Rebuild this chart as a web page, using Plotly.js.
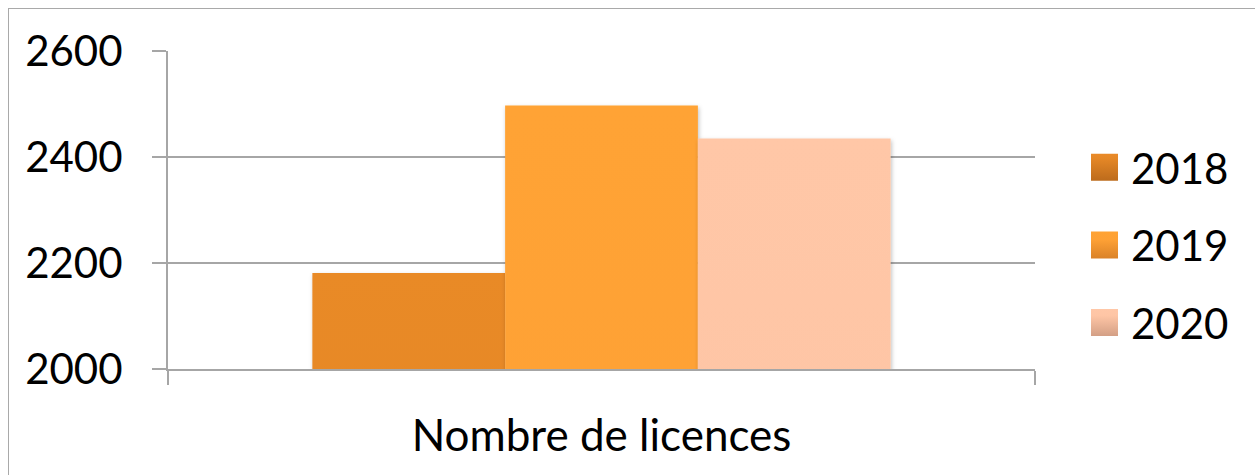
<!DOCTYPE html>
<html><head><meta charset="utf-8">
<script src="https://cdn.plot.ly/plotly-3.0.1.min.js"></script>
<style>
html,body{margin:0;padding:0;background:#fff;overflow:hidden;}
#chart{width:1255px;height:475px;position:absolute;left:0;top:0;}
#frame{position:absolute;left:8px;top:8px;width:1400px;height:600px;border-left:1.5px solid #a9a9a9;border-top:1.5px solid #a9a9a9;pointer-events:none;}
</style>
</head><body>
<div id="chart"></div><div id="frame"></div>
<script>
// ---- data ----
const categories = ["Nombre de licences"];
const years = ["2018", "2019", "2020"];
const values2018 = [2181];
const values2019 = [2497];
const values2020 = [2435];
const yTicks = [2000, 2200, 2400, 2600];

// ---- styles ----
const seriesValues = [values2018, values2019, values2020];
const baseColors = ["#d67a22", "#f0962f", "#eab293"];
// gradient stops per series: [offset, colour]
const gradStops = [
  [[0, "#e98a28"], [0.15, "#e68827"], [1, "#bc6b1c"]],
  [[0, "#ffa334"], [0.3, "#fea135"], [1, "#da8228"]],
  [[0, "#ffc7a7"], [0.25, "#fec5a5"], [1, "#d39f85"]]
];
const FONT = "Lato, 'Open Sans', sans-serif";
const GRID = "#a6a6a6";

const traces = years.map((yr, i) => ({
  type: "bar",
  name: yr,
  x: categories,
  y: seriesValues[i],
  legendgroup: "g" + i,
  marker: {color: baseColors[i], line: {width: 0}},
  hoverinfo: "skip"
}));

const layout = {
  width: 1255, height: 475,
  margin: {l: 168, r: 220, t: 51, b: 106, pad: 0},
  paper_bgcolor: "#ffffff",
  plot_bgcolor: "#ffffff",
  font: {family: FONT, size: 42, color: "#000000"},
  barmode: "group",
  bargap: 0.333,
  bargroupgap: 0,
  showlegend: true,
  legend: {
    x: 1091 / 1255, xref: "container", xanchor: "left",
    y: (475 - 245) / 475, yref: "container", yanchor: "middle",
    font: {family: FONT, size: 42, color: "#000"},
    tracegroupgap: 20,
    bgcolor: "rgba(0,0,0,0)"
  },
  xaxis: {
    type: "category",
    range: [-0.5, 0.5],
    showline: true, linecolor: GRID, linewidth: 2,
    showgrid: false,
    ticks: "outside", tickson: "boundaries", ticklen: 14, tickcolor: GRID, tickwidth: 2,
    tickfont: {family: FONT, size: 44, color: "#000"},
    ticklabelstandoff: 27,
    fixedrange: true
  },
  yaxis: {
    range: [2000, 2600],
    tickvals: yTicks,
    ticktext: yTicks.map(String),
    showline: true, linecolor: GRID, linewidth: 2,
    showgrid: true, gridcolor: GRID, gridwidth: 2,
    zeroline: false,
    ticks: "outside", ticklen: 14, tickcolor: GRID, tickwidth: 2,
    tickfont: {family: FONT, size: 42, color: "#000"},
    ticklabelstandoff: 21,
    fixedrange: true
  }
};

function decorate(gd) {
  const ns = "http://www.w3.org/2000/svg";
  const svg = gd.querySelector("svg.main-svg");
  let defs = svg.querySelector("defs");
  if (!defs) { defs = document.createElementNS(ns, "defs"); svg.insertBefore(defs, svg.firstChild); }
  if (!svg.querySelector("#barGrad0")) {
    years.forEach((yr, i) => {
      const lg = document.createElementNS(ns, "linearGradient");
      lg.setAttribute("id", "barGrad" + i);
      lg.setAttribute("x1", "0"); lg.setAttribute("y1", "0");
      lg.setAttribute("x2", "0"); lg.setAttribute("y2", "1");
      gradStops[i].forEach(([off, col]) => {
        const s = document.createElementNS(ns, "stop");
        s.setAttribute("offset", String(off));
        s.setAttribute("stop-color", col);
        lg.appendChild(s);
      });
      defs.appendChild(lg);
    });
    const f = document.createElementNS(ns, "filter");
    f.setAttribute("id", "barShadow");
    f.setAttribute("x", "-10%"); f.setAttribute("y", "-10%");
    f.setAttribute("width", "120%"); f.setAttribute("height", "120%");
    const ds = document.createElementNS(ns, "feDropShadow");
    ds.setAttribute("dx", "1"); ds.setAttribute("dy", "2");
    ds.setAttribute("stdDeviation", "2"); ds.setAttribute("flood-color", "#000");
    ds.setAttribute("flood-opacity", "0.25");
    f.appendChild(ds); defs.appendChild(f);
  }
  gd.querySelectorAll(".barlayer .trace").forEach((tr, i) => {
    tr.querySelectorAll("path").forEach(p => {
      p.style.setProperty("fill", "url(#barGrad" + i + ")", "important");
      p.setAttribute("filter", "url(#barShadow)");
    });
  });
  gd.querySelectorAll(".legend .traces").forEach((t, i) => {
    t.querySelectorAll(".legendpoints path").forEach(p => {
      p.style.setProperty("fill", "url(#barGrad" + i + ")", "important");
      p.setAttribute("transform", "translate(13.5,0)");
      p.setAttribute("d", "M13.5,13.5H-13.5V-13.5H13.5Z");
    });
  });
}

Plotly.newPlot("chart", traces, layout, {staticPlot: true, displayModeBar: false}).then(gd => {
  decorate(gd);
  gd.on("plotly_afterplot", () => decorate(gd));
  requestAnimationFrame(() => decorate(gd));
  setTimeout(() => decorate(gd), 50);
});
</script>
</body></html>
